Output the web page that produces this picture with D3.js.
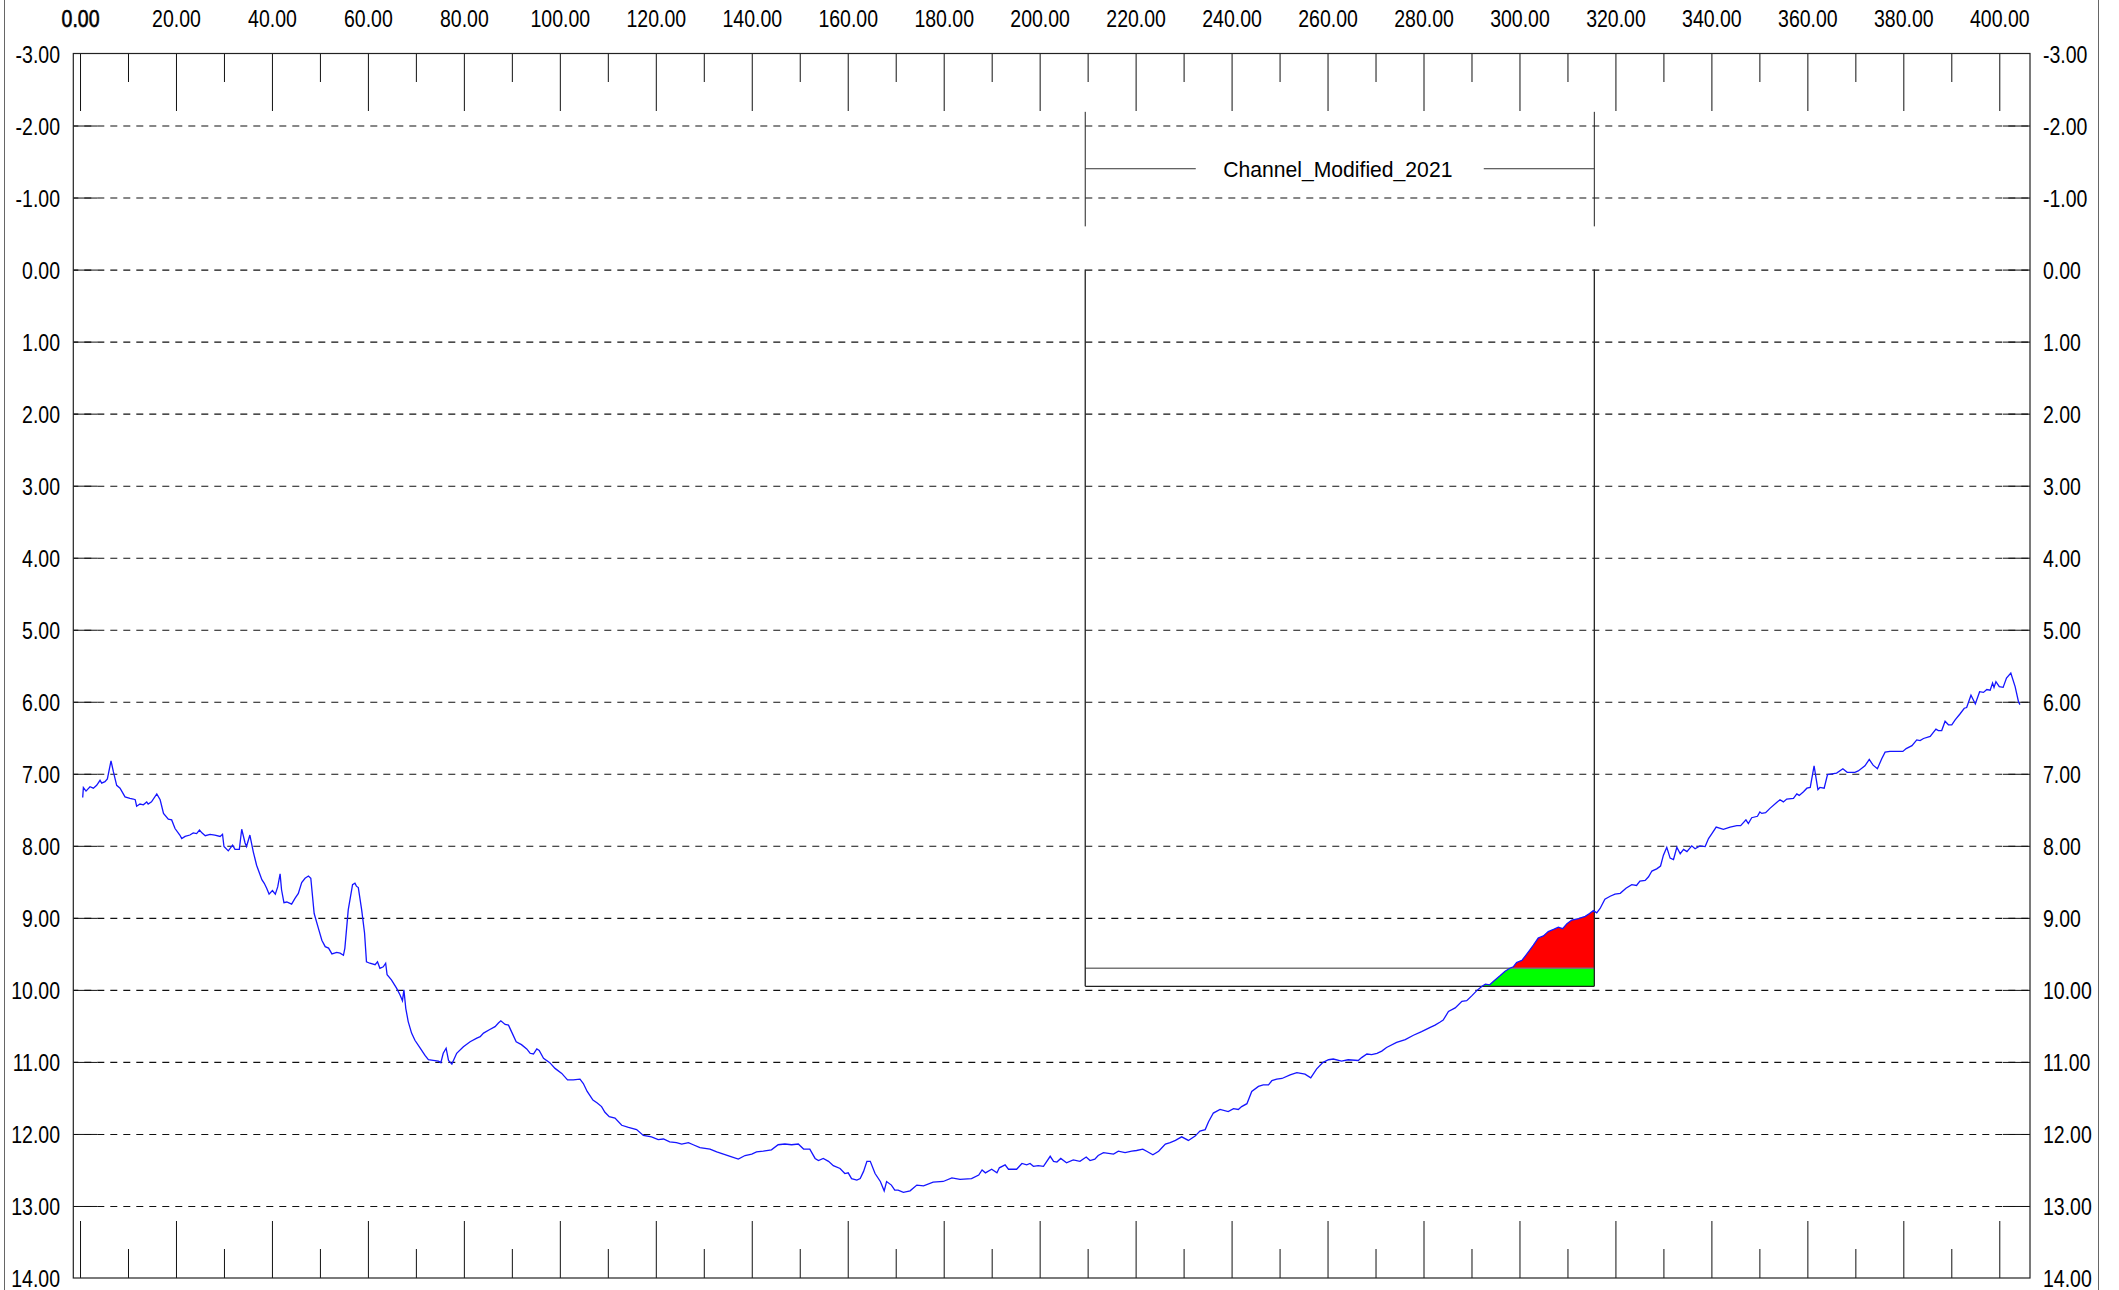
<!DOCTYPE html>
<html>
<head>
<meta charset="utf-8">
<script src="https://cdn.jsdelivr.net/npm/d3@7"></script>
<style>
  html, body { margin: 0; padding: 0; background: #fff; }
  svg { display: block; }
</style>
</head>
<body>
<div id="container"></div>
<script>
const width = 2119;
const height = 1290;

// axis ticks
const xTicks = d3.range(0, 401, 20);
const xMinorTicks = d3.range(10, 400, 20);
const yTicks = d3.range(-3, 15, 1);
const gridTicks = d3.range(-2, 14, 1);

// channel template
const channelName = 'Channel_Modified_2021';
const channelStations = [209.5, 315.6];
const channelTop = 0;
const designBed = 9.70;
const overDredge = 9.95;
const labelLevels = [-2.19, -1.4, -0.6];

// surveyed ground profile (station, level)
const stations = [
  0.56, 0.7, 1.25, 2.08, 2.78, 3.47, 4.17, 4.51, 5.2, 5.7, 6.46, 6.95, 7.64, 8.34, 9.38, 10.4, 11.1, 11.5, 11.8, 12.5,
  13.2, 13.9, 14.2, 14.9, 16.0, 16.7, 17.4, 18.4, 19.1, 19.8, 20.8, 21.2, 21.9, 22.9, 23.6, 24.3, 24.9, 25.4, 26.1, 27.1,
  28.1, 29.2, 29.7, 30.0, 30.9, 31.8, 32.3, 33.2, 33.7, 34.4, 34.7, 35.4, 36.1, 36.8, 37.9, 38.4, 38.9, 39.4, 40.1, 40.7,
  41.2, 41.7, 42.0, 42.5, 43.1, 44.1, 44.8, 45.5, 46.2, 46.9, 47.6, 48.1, 48.8, 49.7, 50.4, 51.1, 51.8, 52.5, 53.5, 54.2,
  54.9, 55.2, 55.9, 56.8, 57.3, 57.6, 58.0, 58.7, 59.3, 59.7, 60.4, 61.5, 62.0, 62.5, 63.2, 63.7, 64.0, 64.9, 66.0, 66.7,
  67.2, 67.5, 67.9, 68.4, 69.1, 69.8, 70.9, 71.9, 72.6, 73.6, 74.7, 75.2, 75.7, 76.3, 76.8, 77.5, 78.5, 79.9, 81.3, 82.7,
  83.4, 84.1, 85.4, 86.5, 87.2, 87.7, 88.6, 89.3, 90.0, 90.9, 92.0, 93.1, 93.8, 94.5, 95.2, 95.7, 96.6, 97.9, 99.0, 100.4,
  101.6, 102.8, 104.2, 104.9, 105.7, 106.9, 107.8, 108.7, 109.4, 110.3, 111.5, 112.9, 114.3, 116.0, 117.4, 119.1, 120.5, 121.6, 122.9, 124.3,
  125.4, 126.8, 127.8, 129.2, 131.3, 132.7, 134.1, 135.5, 137.2, 138.6, 140.0, 141.0, 142.4, 144.1, 145.5, 146.9, 148.3, 149.7, 150.8, 152.1,
  153.2, 153.9, 154.9, 156.0, 157.0, 158.4, 159.4, 160.1, 160.8, 161.9, 162.6, 163.3, 164.0, 164.7, 165.7, 166.8, 167.6, 168.1, 169.1, 169.8,
  170.5, 171.6, 173.0, 174.4, 175.8, 177.8, 179.9, 181.7, 183.4, 185.8, 187.3, 188.0, 188.7, 190.0, 191.1, 191.6, 192.8, 193.5, 195.2, 196.3,
  197.3, 198.0, 198.7, 199.7, 200.8, 202.2, 202.9, 203.6, 204.4, 205.6, 207.0, 208.4, 209.7, 210.5, 211.5, 212.2, 213.3, 215.4, 216.4, 217.8,
  219.2, 220.2, 221.5, 222.3, 223.6, 224.8, 226.2, 227.2, 228.3, 229.6, 231.0, 232.4, 233.4, 234.5, 235.2, 236.2, 237.6, 239.3, 240.4, 241.4,
  242.1, 243.2, 244.2, 245.6, 246.6, 247.7, 248.4, 249.4, 250.5, 252.2, 253.6, 255.3, 256.5, 257.7, 259.0, 260.2, 261.2, 262.9, 264.3, 266.4,
  267.1, 268.2, 269.2, 270.3, 271.3, 272.3, 274.4, 276.2, 277.9, 279.6, 281.4, 282.4, 283.4, 284.1, 285.2, 286.6, 288.0, 289.0, 290.1, 291.1,
  292.2, 292.9, 293.8, 294.6, 296.0, 297.0, 298.0, 298.7, 299.4, 300.5, 301.2, 302.1, 302.9, 303.9, 305.0, 306.0, 307.1, 308.1, 309.0, 309.9,
  310.9, 312.3, 313.7, 314.6, 315.4, 316.1, 316.8, 317.8, 318.9, 319.9, 321.0, 322.2, 323.4, 324.4, 325.1, 326.2, 326.9, 327.6, 328.6, 329.4,
  330.0, 330.7, 331.4, 332.1, 332.8, 333.5, 334.2, 334.9, 335.9, 336.6, 337.6, 338.7, 339.4, 340.1, 341.0, 342.5, 343.9, 345.3, 346.1, 347.2,
  347.7, 348.4, 349.6, 350.1, 350.5, 351.3, 352.2, 353.6, 354.3, 355.0, 355.7, 357.1, 357.8, 358.3, 359.2, 359.9, 360.6, 361.4, 362.2, 362.6,
  363.5, 364.2, 365.1, 366.1, 367.4, 368.3, 369.9, 370.6, 372.0, 372.9, 373.7, 374.6, 375.5, 376.2, 377.2, 378.6, 379.9, 380.6, 381.8, 382.8,
  383.5, 384.2, 385.6, 386.8, 387.3, 388.0, 388.7, 389.4, 390.1, 390.8, 391.8, 392.7, 393.2, 394.1, 395.0, 395.9, 396.7, 397.4, 398.1, 398.6,
  398.9, 399.3, 400.0, 400.8, 401.5, 402.4, 403.3, 404.0, 404.3
];
const levels = [
  7.33, 7.19, 7.24, 7.18, 7.20, 7.16, 7.09, 7.13, 7.11, 7.07, 6.82, 6.97, 7.16, 7.20, 7.32, 7.34, 7.35, 7.36, 7.45, 7.42,
  7.43, 7.39, 7.42, 7.39, 7.28, 7.36, 7.55, 7.63, 7.64, 7.76, 7.85, 7.90, 7.87, 7.85, 7.82, 7.83, 7.78, 7.82, 7.86, 7.84,
  7.85, 7.87, 7.84, 8.01, 8.07, 7.99, 8.05, 8.05, 7.77, 7.96, 8.01, 7.85, 8.08, 8.27, 8.47, 8.52, 8.59, 8.67, 8.62, 8.67,
  8.57, 8.39, 8.61, 8.79, 8.78, 8.81, 8.73, 8.66, 8.51, 8.45, 8.42, 8.45, 8.94, 9.15, 9.31, 9.40, 9.42, 9.50, 9.48, 9.49,
  9.52, 9.42, 8.89, 8.54, 8.52, 8.56, 8.58, 8.89, 9.21, 9.61, 9.63, 9.65, 9.61, 9.70, 9.68, 9.63, 9.79, 9.86, 9.98, 10.07,
  10.15, 10.00, 10.26, 10.44, 10.60, 10.70, 10.81, 10.91, 10.97, 10.98, 10.99, 11.01, 10.88, 10.81, 10.98, 11.03, 10.88, 10.79, 10.72, 10.67,
  10.65, 10.60, 10.55, 10.51, 10.46, 10.43, 10.48, 10.49, 10.59, 10.72, 10.76, 10.82, 10.88, 10.89, 10.82, 10.84, 10.95, 11.01, 11.09, 11.16,
  11.25, 11.25, 11.24, 11.30, 11.41, 11.53, 11.57, 11.62, 11.70, 11.76, 11.78, 11.88, 11.91, 11.94, 12.02, 12.04, 12.08, 12.07, 12.11, 12.12,
  12.14, 12.12, 12.15, 12.19, 12.21, 12.25, 12.28, 12.31, 12.35, 12.30, 12.28, 12.25, 12.24, 12.22, 12.15, 12.14, 12.15, 12.14, 12.21, 12.21,
  12.34, 12.37, 12.34, 12.38, 12.44, 12.48, 12.55, 12.54, 12.62, 12.64, 12.62, 12.52, 12.38, 12.38, 12.55, 12.66, 12.79, 12.66, 12.71, 12.78,
  12.78, 12.81, 12.79, 12.71, 12.72, 12.67, 12.66, 12.61, 12.63, 12.62, 12.57, 12.50, 12.54, 12.49, 12.54, 12.47, 12.43, 12.49, 12.49, 12.41,
  12.43, 12.41, 12.45, 12.44, 12.45, 12.31, 12.38, 12.39, 12.34, 12.40, 12.36, 12.38, 12.32, 12.37, 12.35, 12.30, 12.26, 12.28, 12.24, 12.26,
  12.24, 12.23, 12.21, 12.24, 12.29, 12.24, 12.14, 12.12, 12.09, 12.04, 12.09, 12.03, 11.96, 11.94, 11.83, 11.71, 11.66, 11.69, 11.65, 11.66,
  11.62, 11.58, 11.41, 11.34, 11.32, 11.32, 11.26, 11.24, 11.23, 11.18, 11.15, 11.17, 11.22, 11.10, 11.01, 10.97, 10.96, 10.99, 10.97, 10.98,
  10.94, 10.89, 10.90, 10.88, 10.85, 10.80, 10.73, 10.69, 10.63, 10.58, 10.52, 10.49, 10.45, 10.42, 10.30, 10.25, 10.16, 10.15, 10.08, 10.01,
  9.95, 9.92, 9.93, 9.88, 9.80, 9.74, 9.70, 9.68, 9.62, 9.59, 9.53, 9.45, 9.38, 9.28, 9.25, 9.19, 9.16, 9.13, 9.15, 9.08,
  9.03, 9.01, 8.98, 8.94, 8.90, 8.93, 8.87, 8.74, 8.70, 8.67, 8.66, 8.59, 8.54, 8.55, 8.49, 8.48, 8.43, 8.35, 8.32, 8.28,
  8.13, 8.02, 8.17, 8.19, 8.02, 8.11, 8.05, 8.08, 8.00, 8.04, 8.00, 8.01, 7.90, 7.83, 7.74, 7.77, 7.74, 7.72, 7.72, 7.64,
  7.69, 7.61, 7.59, 7.53, 7.55, 7.54, 7.48, 7.40, 7.36, 7.39, 7.35, 7.34, 7.28, 7.30, 7.25, 7.20, 7.19, 6.89, 7.22, 7.19,
  7.20, 7.01, 7.00, 6.99, 6.93, 6.98, 6.98, 6.96, 6.89, 6.80, 6.88, 6.93, 6.79, 6.70, 6.69, 6.69, 6.69, 6.65, 6.61, 6.53,
  6.54, 6.51, 6.48, 6.38, 6.40, 6.40, 6.27, 6.32, 6.32, 6.25, 6.17, 6.09, 6.08, 5.91, 6.03, 5.86, 5.87, 5.83, 5.84, 5.74,
  5.80, 5.72, 5.79, 5.80, 5.67, 5.60, 5.79, 6.00, 6.04
];

const plot = {left: 73.3, right: 2030, top: 53.5, bottom: 1278};
const fontFamily = '"Liberation Sans", Arial, sans-serif';
const numSize = 23.5;
const squeeze = 0.83;

function render() {
  const profile = stations.map((s, i) => ({x: s, y: levels[i]}));
  const fmt = d => d.toFixed(2); // plain hyphen for negatives, as in the original

  const x = d3.scaleLinear().domain([-1.4, 406.4]).range([plot.left, plot.right]);
  const y = d3.scaleLinear().domain([-3, 14]).range([plot.top, plot.bottom]);

  const svg = d3.select('#container').append('svg')
    .attr('width', width)
    .attr('height', height)
    .attr('viewBox', [0, 0, width, height]);

  svg.append('rect')
    .attr('width', width).attr('height', height).attr('fill', '#fff');

  // outer frame edges
  svg.append('line').attr('x1', 4.5).attr('x2', 4.5).attr('y1', 0).attr('y2', height)
    .attr('stroke', '#666');
  svg.append('line').attr('x1', 2098.5).attr('x2', 2098.5).attr('y1', 0).attr('y2', height)
    .attr('stroke', '#666');

  // dashed level lines
  svg.append('g')
    .attr('transform', `translate(${plot.left},0)`)
    .call(d3.axisLeft(y).tickValues(gridTicks).tickSize(-(plot.right - plot.left)).tickFormat(''))
    .call(g => g.select('.domain').remove())
    .call(g => g.selectAll('line').attr('stroke', '#111').attr('stroke-width', 1.1)
      .attr('stroke-dasharray', '7,6').attr('stroke-dashoffset', -24));

  // solid stubs at both ends of each level line
  svg.append('g')
    .attr('transform', `translate(${plot.left},0)`)
    .call(d3.axisLeft(y).tickValues(gridTicks).tickSize(-24).tickFormat(''))
    .call(g => g.select('.domain').remove())
    .call(g => g.selectAll('line').attr('stroke', '#111'));
  svg.append('g')
    .attr('transform', `translate(${plot.right},0)`)
    .call(d3.axisRight(y).tickValues(gridTicks).tickSize(-27).tickFormat(''))
    .call(g => g.select('.domain').remove())
    .call(g => g.selectAll('line').attr('stroke', '#111'));

  // station ticks, top and bottom
  const tickRow = (axis, ty, values, size) => {
    svg.append('g')
      .attr('transform', `translate(0,${ty})`)
      .call(axis(x).tickValues(values).tickSize(size).tickFormat(''))
      .call(g => g.select('.domain').remove())
      .call(g => g.selectAll('line').attr('stroke', '#111'));
  };
  tickRow(d3.axisBottom, plot.top, xTicks, 57.5);
  tickRow(d3.axisBottom, plot.top, xMinorTicks, 28.5);
  tickRow(d3.axisTop, plot.bottom, xTicks, 57);
  tickRow(d3.axisTop, plot.bottom, xMinorTicks, 29);

  // channel template fills
  svg.append('clipPath').attr('id', 'channel-clip')
    .append('rect')
    .attr('x', x(channelStations[0]))
    .attr('y', y(channelTop))
    .attr('width', x(channelStations[1]) - x(channelStations[0]))
    .attr('height', y(overDredge) - y(channelTop));

  const cut = d3.area()
    .x(d => x(d.x))
    .y0(y(designBed))
    .y1(d => y(Math.min(d.y, designBed)));
  const over = d3.area()
    .x(d => x(d.x))
    .y0(y(overDredge))
    .y1(d => y(Math.max(designBed, Math.min(d.y, overDredge))));

  const fills = svg.append('g').attr('clip-path', 'url(#channel-clip)');
  fills.append('path').datum(profile).attr('d', cut).attr('fill', '#ff0000');
  fills.append('path').datum(profile).attr('d', over).attr('fill', '#00ff00');

  // channel outline
  const [cl, cr] = channelStations;
  const outline = svg.append('g').attr('fill', 'none');
  outline.append('line')
    .attr('x1', x(cl)).attr('x2', x(cr)).attr('y1', y(designBed)).attr('y2', y(designBed))
    .attr('stroke', '#777').attr('stroke-width', 1.5);
  outline.append('line')
    .attr('x1', x(cl)).attr('x2', x(cr)).attr('y1', y(overDredge)).attr('y2', y(overDredge))
    .attr('stroke', '#222').attr('stroke-width', 1.2);
  outline.selectAll('.side')
    .data(channelStations)
    .join('line')
    .attr('class', 'side')
    .attr('x1', d => x(d)).attr('x2', d => x(d))
    .attr('y1', y(channelTop)).attr('y2', y(overDredge))
    .attr('stroke', '#222').attr('stroke-width', 1.3);

  // channel label
  const [lt, lm, lb] = labelLevels;
  const label = svg.append('g');
  label.selectAll('.cap')
    .data(channelStations)
    .join('line')
    .attr('class', 'cap')
    .attr('x1', d => x(d)).attr('x2', d => x(d))
    .attr('y1', y(lt)).attr('y2', y(lb))
    .attr('stroke', '#222');
  const mid = (x(cl) + x(cr)) / 2;
  label.append('line')
    .attr('x1', x(cl)).attr('x2', mid - 144).attr('y1', y(lm)).attr('y2', y(lm))
    .attr('stroke', '#333');
  label.append('line')
    .attr('x1', mid + 144).attr('x2', x(cr)).attr('y1', y(lm)).attr('y2', y(lm))
    .attr('stroke', '#333');
  label.append('text')
    .attr('transform', `translate(${mid - 2},${y(lm) + 8}) scale(0.94,1)`)
    .attr('text-anchor', 'middle')
    .attr('font-family', fontFamily)
    .attr('font-size', 22.5)
    .attr('fill', '#000')
    .text(channelName);

  // ground profile
  svg.append('path')
    .datum(profile)
    .attr('fill', 'none')
    .attr('stroke', '#1515ff')
    .attr('stroke-width', 1.3)
    .attr('d', d3.line().x(d => x(d.x)).y(d => y(d.y)));

  // plot border
  svg.append('rect')
    .attr('x', plot.left).attr('y', plot.top)
    .attr('width', plot.right - plot.left).attr('height', plot.bottom - plot.top)
    .attr('fill', 'none').attr('stroke', '#222').attr('stroke-width', 1.2);

  // station labels on top
  const top = svg.append('g')
    .attr('transform', 'translate(0,27)')
    .call(d3.axisTop(x).tickValues(xTicks).tickSize(0).tickPadding(0).tickFormat(fmt));
  top.select('.domain').remove();
  top.selectAll('text')
    .attr('y', 0).attr('dy', 0)
    .attr('transform', `scale(${squeeze},1)`)
    .attr('font-family', fontFamily).attr('font-size', numSize).attr('fill', '#000')
    .filter(d => d === 0)
    .attr('stroke', '#000').attr('stroke-width', 0.6);

  // level labels on both sides
  const sideLabels = (axis, tx, anchor, offset) => {
    const g = svg.append('g')
      .attr('transform', `translate(${tx},0)`)
      .call(axis(y).tickValues(yTicks).tickSize(0).tickFormat(fmt));
    g.select('.domain').remove();
    g.selectAll('text')
      .attr('x', 0).attr('dy', 0).attr('y', 8.5)
      .attr('text-anchor', anchor)
      .attr('transform', `translate(${offset},0) scale(${squeeze},1)`)
      .attr('font-family', fontFamily).attr('font-size', numSize).attr('fill', '#000');
  };
  sideLabels(d3.axisLeft, plot.left, 'end', -13.3);
  sideLabels(d3.axisRight, plot.right, 'start', 13);
}

render();
</script>
</body>
</html>
